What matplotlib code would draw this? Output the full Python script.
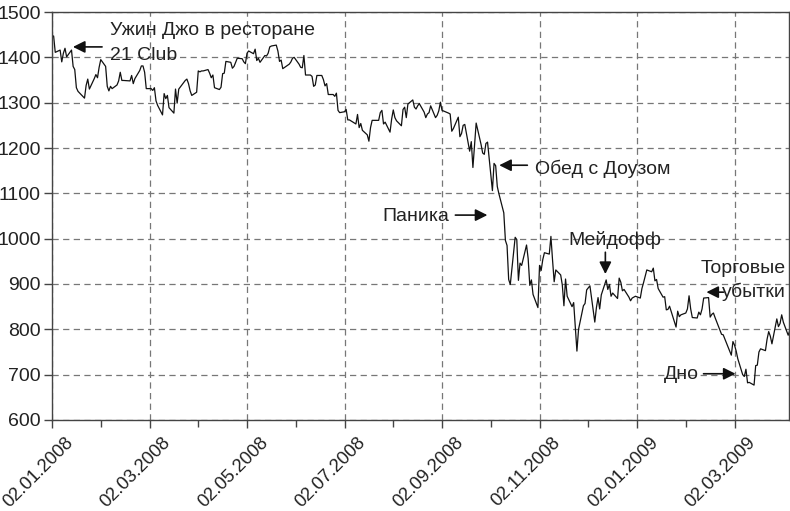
import matplotlib
matplotlib.use('Agg')
import matplotlib.pyplot as plt
import matplotlib.transforms as mtransforms
import numpy as np
import pandas as pd

plt.rcParams['font.family'] = ['Liberation Sans', 'DejaVu Sans']

# S&P 500 closes, one list per month
jan08 = [1447, 1447, 1411, 1416, 1390, 1409, 1420, 1401, 1416, 1380, 1373, 1333, 1325, 1310, 1338, 1352, 1330, 1353, 1362, 1355, 1378]
feb08 = [1395, 1380, 1336, 1326, 1336, 1331, 1339, 1348, 1367, 1349, 1349, 1348, 1360, 1342, 1353, 1371, 1381, 1381, 1367, 1331]
mar08 = [1331, 1327, 1333, 1304, 1294, 1273, 1320, 1309, 1316, 1289, 1277, 1330, 1299, 1330, 1349, 1352, 1342, 1326, 1316, 1323]
apr08 = [1370, 1368, 1370, 1370, 1373, 1365, 1355, 1361, 1333, 1329, 1334, 1364, 1365, 1391, 1389, 1376, 1380, 1389, 1398, 1397, 1390, 1386]
may08 = [1409, 1414, 1408, 1418, 1393, 1398, 1389, 1404, 1403, 1409, 1423, 1425, 1427, 1414, 1391, 1394, 1375, 1385, 1390, 1398, 1400]
jun08 = [1385, 1378, 1377, 1404, 1361, 1361, 1358, 1336, 1339, 1360, 1360, 1351, 1337, 1342, 1318, 1318, 1314, 1321, 1283, 1278, 1280]
jul08 = [1285, 1262, 1262, 1253, 1274, 1245, 1254, 1239, 1229, 1215, 1245, 1261, 1261, 1261, 1278, 1283, 1253, 1257, 1235, 1264, 1284, 1267]
aug08 = [1260, 1249, 1285, 1290, 1267, 1297, 1306, 1290, 1286, 1293, 1298, 1279, 1267, 1275, 1278, 1293, 1267, 1272, 1282, 1301, 1283]
sep08 = [1277, 1275, 1237, 1243, 1268, 1225, 1232, 1250, 1252, 1193, 1214, 1157, 1207, 1255, 1208, 1189, 1186, 1210, 1213, 1106, 1166]
oct08 = [1161, 1115, 1099, 1057, 996, 985, 910, 899, 1003, 998, 908, 946, 941, 986, 956, 897, 909, 877, 848, 941, 930, 954, 969]
nov08 = [966, 1005, 953, 905, 931, 920, 898, 852, 911, 873, 850, 859, 807, 752, 800, 852, 857, 887, 896]
dec08 = [816, 848, 870, 845, 876, 909, 888, 899, 873, 880, 868, 913, 904, 885, 888, 871, 863, 869, 873, 869, 890, 903]
jan09 = [931, 927, 935, 907, 910, 890, 871, 872, 843, 844, 851, 805, 840, 828, 832, 836, 845, 874, 845, 826]
feb09 = [825, 838, 832, 845, 869, 870, 827, 833, 836, 826, 789, 788, 779, 770, 743, 773, 765, 752, 735]
mar09 = [700, 696, 712, 682, 683, 677, 720, 721, 750, 757, 753, 778, 795, 785, 768, 823, 806, 813, 832, 816, 787, 798]

holidays = ['2008-01-01', '2008-01-21', '2008-02-18', '2008-03-21', '2008-05-26', '2008-07-04',
            '2008-09-01', '2008-11-27', '2008-12-25', '2009-01-01', '2009-01-19', '2009-02-16']

tick_labels = ['02.01.2008', '02.03.2008', '02.05.2008', '02.07.2008',
               '02.09.2008', '02.11.2008', '02.01.2009', '02.03.2009']
y_ticks = [600, 700, 800, 900, 1000, 1100, 1200, 1300, 1400, 1500]

values = jan08 + feb08 + mar08 + apr08 + may08 + jun08 + jul08 + aug08 + \
    sep08 + oct08 + nov08 + dec08 + jan09 + feb09 + mar09
start = pd.Timestamp('2008-01-02')
dates = pd.bdate_range(start, '2009-03-31', freq='C', holidays=holidays)
n = min(len(dates), len(values))
days = (dates[:n] - start).days.values
values = np.array(values[:n])

fig = plt.figure(figsize=(7.9, 5.11), dpi=100)
ax = fig.add_axes([52/790, 1 - 420/511, 737/790, 408/511])

ax.plot(days, values, color='#111111', lw=0.9)

ax.set_xlim(0, 453.5)
ax.set_ylim(600, 1500)
ax.set_xticks(np.arange(len(tick_labels)) * 60)
ax.set_xticklabels(tick_labels, rotation=45, ha='center', va='top', fontsize=13.2)
ax.set_xticks(np.arange(len(tick_labels) - 1) * 60 + 30, minor=True)
ax.set_yticks(y_ticks)

ax.grid(True, which='major', color='#777777', linestyle=(0, (5, 3.5)), lw=0.9)
for s in ax.spines.values():
    s.set_color('#444444')
    s.set_linewidth(1.0)
ax.tick_params(axis='both', which='major', colors='#444444', labelcolor='#222222',
               length=6, width=1, direction='out', pad=2)
ax.tick_params(axis='y', labelsize=14)
ax.tick_params(axis='x', which='minor', length=5, width=1, colors='#444444')
ax.tick_params(axis='x', which='major', pad=4)

# shift rotated date labels a little to the left, like the original
shift = mtransforms.ScaledTranslation(-14/100, 0, fig.dpi_scale_trans)
for lab in ax.get_xticklabels():
    lab.set_transform(lab.get_transform() + shift)

txt = dict(fontsize=14, color='#222222')
arw = dict(arrowstyle='-|>', color='#111111', lw=1.2, mutation_scale=18, shrinkA=0, shrinkB=0)

ax.text(35.7, 1449, 'Ужин Джо в ресторане', ha='left', va='baseline', **txt)
ax.text(35.7, 1394, '21 Club', ha='left', va='baseline', **txt)
ax.annotate('', xy=(12.9, 1423), xytext=(30.8, 1423), arrowprops=arw)

ax.text(297.4, 1143, 'Обед с Доузом', ha='left', va='baseline', **txt)
ax.annotate('', xy=(275.2, 1162), xytext=(292.5, 1162), arrowprops=arw)

ax.text(244.5, 1040, 'Паника', ha='right', va='baseline', **txt)
ax.annotate('', xy=(267.9, 1052), xytext=(248.2, 1052), arrowprops=arw)

ax.text(346.3, 986, 'Мейдофф', ha='center', va='baseline', **txt)
ax.annotate('', xy=(340.5, 922), xytext=(340.5, 970), arrowprops=arw)

ax.text(451.3, 924, 'Торговые', ha='right', va='baseline', **txt)
ax.text(451.3, 872, 'убытки', ha='right', va='baseline', **txt)
ax.annotate('', xy=(402.7, 882), xytext=(413.2, 882), arrowprops=arw)

ax.text(397.8, 690, 'Дно', ha='right', va='baseline', **txt)
ax.annotate('', xy=(420.6, 702), xytext=(400.9, 702), arrowprops=arw)

fig.savefig('out.png', dpi=100)
